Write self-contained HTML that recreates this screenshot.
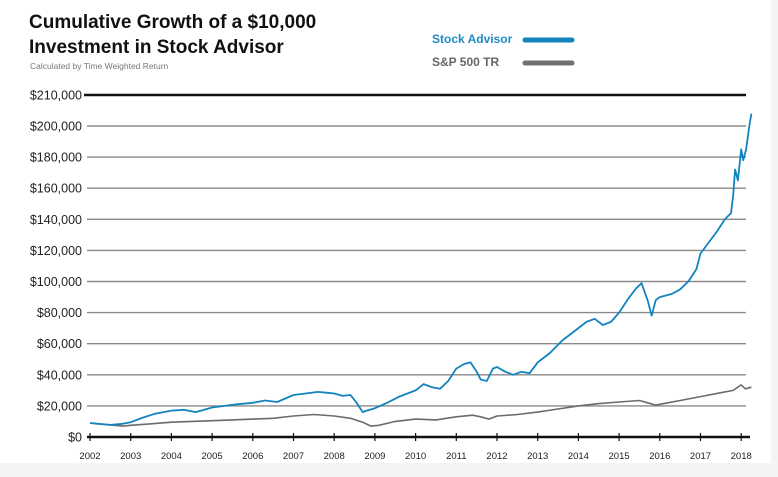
<!DOCTYPE html>
<html><head><meta charset="utf-8"><style>
body{margin:0;width:778px;height:477px;background:#fff;overflow:hidden;font-family:"Liberation Sans",sans-serif}
svg{display:block}
</style></head><body>
<svg id="chart" width="778" height="477">
<rect x="0" y="463" width="778" height="14" fill="#f4f4f4"/>
<rect x="771" y="0" width="7" height="477" fill="#f4f4f4"/>
<text x="29" y="28" font-size="19" font-weight="bold" fill="#111">Cumulative Growth of a $10,000</text>
<text x="29" y="53" font-size="19" font-weight="bold" fill="#111">Investment in Stock Advisor</text>
<text x="30" y="69" font-size="8.5" fill="#777">Calculated by Time Weighted Return</text>
<text x="432" y="43" font-size="12" font-weight="bold" fill="#1f8cc4">Stock Advisor</text>
<line x1="525" y1="40" x2="572" y2="40" stroke="#1383bf" stroke-width="5" stroke-linecap="round"/>
<text x="432" y="66" font-size="12" font-weight="bold" fill="#666">S&amp;P 500 TR</text>
<line x1="525" y1="63" x2="572" y2="63" stroke="#707070" stroke-width="5" stroke-linecap="round"/>
<g id="grid"></g><g id="series"></g><g id="xaxis"></g>
</svg>
<script>
const yTicks=[0,20000,40000,60000,80000,100000,120000,140000,160000,180000,200000];
const topLabel=210000;
const xYears=[2002,2003,2004,2005,2006,2007,2008,2009,2010,2011,2012,2013,2014,2015,2016,2017,2018];
const saDates=[2002,2002.2,2002.5,2002.8,2003,2003.3,2003.6,2004,2004.3,2004.6,2005,2005.3,2005.6,2006,2006.3,2006.6,2007,2007.3,2007.6,2007.8,2008,2008.2,2008.4,2008.55,2008.7,2008.8,2009,2009.3,2009.6,2010,2010.2,2010.4,2010.6,2010.8,2011,2011.2,2011.35,2011.5,2011.6,2011.75,2011.9,2012,2012.2,2012.4,2012.6,2012.8,2013,2013.3,2013.6,2014,2014.2,2014.4,2014.6,2014.8,2015,2015.2,2015.4,2015.55,2015.7,2015.8,2015.9,2016,2016.3,2016.5,2016.7,2016.9,2017,2017.2,2017.4,2017.6,2017.75,2017.8,2017.85,2017.92,2018,2018.05,2018.12,2018.2,2018.25];
const saValues=[9000,8500,7800,8500,9500,12500,15000,17000,17500,16000,19000,20000,21000,22000,23500,22500,27000,28000,29000,28500,28000,26500,27000,22000,16000,17000,18500,22000,26000,30000,34000,32000,31000,36000,44000,47000,48000,42000,37000,36000,44000,45000,42000,40000,42000,41000,48000,54000,62000,70000,74000,76000,72000,74000,80000,88000,95000,99000,88000,78000,88000,90000,92000,95000,100000,108000,118000,125000,132000,140000,144000,155000,172000,165000,185000,178000,185000,200000,208000];
const spDates=[2002,2002.4,2002.8,2003,2003.5,2004,2004.5,2005,2005.5,2006,2006.5,2007,2007.5,2008,2008.4,2008.7,2008.9,2009.1,2009.5,2010,2010.5,2011,2011.4,2011.6,2011.8,2012,2012.5,2013,2013.5,2014,2014.5,2015,2015.5,2015.7,2015.9,2016,2016.5,2017,2017.5,2017.8,2018,2018.1,2018.25];
const spValues=[9000,8000,7000,7500,8500,9500,10000,10500,11000,11500,12000,13500,14500,13500,12000,9500,7000,7500,10000,11500,11000,13000,14000,13000,11500,13500,14500,16000,18000,20000,21500,22500,23500,22000,20500,21000,23500,26000,28500,30000,33500,31000,32000];
const X=y=>90+(y-2002)*40.7, Y=v=>437-v*(311/200000);
const NS='http://www.w3.org/2000/svg';
const mk=(t,a,p)=>{const e=document.createElementNS(NS,t);for(const k in a)e.setAttribute(k,a[k]);p.appendChild(e);return e;};
const grid=document.getElementById('grid'), ser=document.getElementById('series'), xa=document.getElementById('xaxis');
const tl=mk('line',{x1:84,x2:746,y1:95,y2:95,stroke:'#111','stroke-width':2.5},grid);


const tt=mk('text',{x:82,y:99.5,'text-anchor':'end','font-size':12.5,fill:'#222'},grid);
tt.textContent='$'+topLabel.toLocaleString('en-US');


yTicks.forEach(v=>{
  const zero=v===0;
  const l=mk('line',{x1:87,x2:zero?750:746,y1:Y(v),y2:Y(v),stroke:zero?'#111':'#8a8a8a','stroke-width':zero?2.5:1.4},grid);
  
  
  const t=mk('text',{x:82,y:Y(v)+4.5,'text-anchor':'end','font-size':12.5,fill:'#222'},grid);
  t.textContent='$'+v.toLocaleString('en-US');
  
  
});
xYears.forEach(yr=>{
  const tk=mk('line',{x1:X(yr),x2:X(yr),y1:433,y2:441,stroke:'#111','stroke-width':1.2},xa);
  
  
  const t=mk('text',{x:X(yr),y:459,'text-anchor':'middle','font-size':9.5,fill:'#222'},xa);
  t.textContent=yr;
  
  
});
const path=(d,v)=>d.map((x,i)=>(i?'L':'M')+X(x).toFixed(1)+','+Y(v[i]).toFixed(1)).join(' ');
const sp=mk('path',{d:path(spDates,spValues),fill:'none',stroke:'#6b6b6b','stroke-width':1.6,'stroke-linejoin':'round'},ser);


const sa=mk('path',{d:path(saDates,saValues),fill:'none',stroke:'#1383bf','stroke-width':1.8,'stroke-linejoin':'round'},ser);


</script>
</body></html>
